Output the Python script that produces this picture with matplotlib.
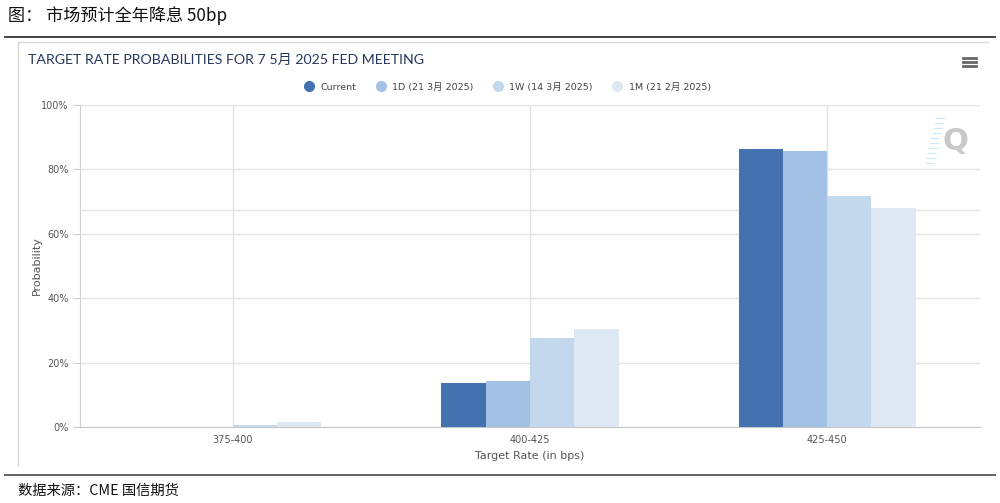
import matplotlib.pyplot as plt
from matplotlib.lines import Line2D
import numpy as np

plt.rcParams['font.family'] = ['DejaVu Sans', 'Noto Sans CJK SC']

categories = ['375-400', '400-425', '425-450']
series_names = ['Current', '1D (21 3月 2025)', '1W (14 3月 2025)', '1M (21 2月 2025)']
current = [0.0, 13.6, 86.4]
one_day = [0.0, 14.3, 85.7]
one_week = [0.6, 27.6, 71.8]
one_month = [1.5, 30.5, 67.9]
series = [current, one_day, one_week, one_month]
colors = ['#4472b0', '#a3c1e4', '#c3d7ed', '#dee8f4']
y_ticks = [0, 20, 40, 60, 80, 100]

fig = plt.figure(figsize=(10, 5.03), dpi=100)

# page header / footer
fig.text(0.008, 0.968, '图： 市场预计全年降息 50bp', fontsize=12.3,
         family=['Noto Sans CJK SC', 'DejaVu Sans'], va='center', color='#111111')
fig.text(0.018, 0.024, '数据来源：CME 国信期货', fontsize=10.3,
         family=['Noto Sans CJK SC', 'DejaVu Sans'], va='center', color='#111111')
fig.add_artist(Line2D([0.005, 0.995], [1 - 37/503, 1 - 37/503], color='#333333', lw=1.3))
fig.add_artist(Line2D([0.005, 0.995], [1 - 475/503, 1 - 475/503], color='#555555', lw=1.3))

# chart panel border (top + left)
fig.add_artist(Line2D([0.018, 0.988], [1 - 42/503, 1 - 42/503], color='#d8d8d8', lw=1))
fig.add_artist(Line2D([0.018, 0.018], [1 - 42/503, 1 - 466/503], color='#d8d8d8', lw=1))

fig.text(0.028, 1 - 60/503, 'TARGET RATE PROBABILITIES FOR 7 5月 2025 FED MEETING',
         fontsize=10.2, color='#27375f', va='center',
         family=['Lato', 'Noto Sans CJK SC'])

# menu icon
for yy in [58, 62, 66]:
    fig.add_artist(Line2D([0.963, 0.976], [1 - yy/503, 1 - yy/503], color='#666666', lw=2))

ax = fig.add_axes([0.08, 1 - 427/503, 0.90, 322/503])
x = np.arange(len(categories))
w = 0.149
offsets = [-1.5, -0.5, 0.5, 1.5]
for vals, off, c, name in zip(series, offsets, colors, series_names):
    ax.bar(x + off * w, vals, width=w, color=c, label=name, zorder=3, linewidth=0)

ax.set_xlim(-0.515, 2.515)
ax.set_ylim(0, 100)
ax.set_yticks(y_ticks)
ax.set_yticklabels([f'{v}%' for v in y_ticks])
ax.set_xticks(x)
ax.set_xticklabels(categories)
ax.tick_params(axis='both', labelsize=7, colors='#555555', length=0, pad=6)
ax.tick_params(axis='y', length=5, color='#cccccc', pad=3)
ax.grid(True, axis='both', color='#e3e3e3', lw=1, zorder=0)
ax.axhline(67.5, color='#e3e3e3', lw=1, zorder=0)
for s in ['top', 'right']:
    ax.spines[s].set_visible(False)
ax.spines['left'].set_color('#d0d0d0')
ax.spines['bottom'].set_color('#c8c8c8')
ax.set_xlabel('Target Rate (in bps)', fontsize=8, color='#555555', labelpad=4)
ax.set_ylabel('Probability', fontsize=8, color='#555555')
ax.yaxis.set_label_coords(-0.042, 0.5)

# watermark
fig.text(0.955, 1 - 142/503, 'Q', fontsize=22, color='#c8c8c8', ha='center',
         va='center', fontweight='bold')
for i, yy in enumerate(range(118, 168, 5)):
    x1 = 0.944 - 0.0012 * i
    fig.add_artist(Line2D([x1 - 0.008, x1], [1 - yy/503, 1 - yy/503], color='#cfe6f5', lw=0.8))

handles = [Line2D([], [], marker='o', ls='', color=c, markersize=7) for c in colors]
fig.legend(handles, series_names, loc='center', bbox_to_anchor=(0.505, 1 - 87/503),
           ncol=4, frameon=False, handletextpad=0.2, columnspacing=1.6,
           labelcolor='#444444', prop={'family': ['DejaVu Sans', 'Noto Sans CJK SC'], 'size': 6.8})

fig.savefig('out.png', dpi=100)
